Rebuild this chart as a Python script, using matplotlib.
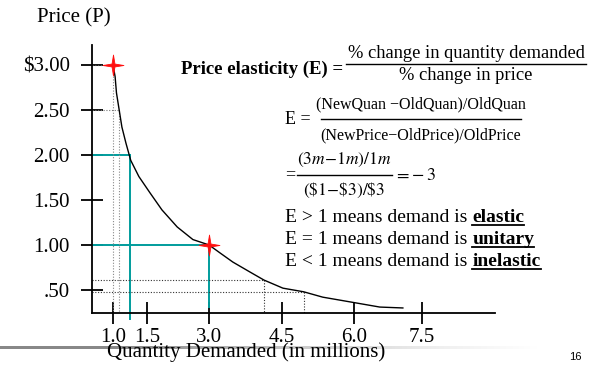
import matplotlib
matplotlib.use('Agg')
import matplotlib.pyplot as plt
import numpy as np
from matplotlib.lines import Line2D
from matplotlib.path import Path

plt.rcParams['font.family'] = ['Liberation Serif', 'DejaVu Serif']
plt.rcParams['mathtext.fontset'] = 'stix'

# Demand curve (quantity in millions, price in $)
quantity = [1.0, 1.03, 1.05, 1.09, 1.13, 1.19, 1.26, 1.38, 1.57, 1.86, 2.23, 2.61, 3.0,
            3.23, 3.49, 3.84, 4.13, 4.52, 4.95, 5.35, 6.0, 6.57, 7.08]
price = [3.0, 2.87, 2.69, 2.50, 2.31, 2.13, 1.94, 1.76, 1.58, 1.39, 1.20, 1.06, 1.0,
         0.91, 0.81, 0.70, 0.61, 0.52, 0.48, 0.42, 0.36, 0.31, 0.30]

# Marked points (old and new)
star_q = [1.0, 3.0]
star_p = [3.0, 1.0]

x_ticks = [1.0, 1.5, 3.0, 4.5, 6.0, 7.5]
x_labels = ['1.0', '1.5', '3.0', '4.5', '6.0', '7.5']
y_ticks = [0.5, 1.0, 1.5, 2.0, 2.5, 3.0]
y_labels = ['.50', '1.00', '1.50', '2.00', '2.50', '$3.00']

W, H = 604, 370
fig = plt.figure(figsize=(W / 100, H / 100), dpi=100)


def fx(x):
    return x / W


def fy(y):
    return 1 - y / H


# the hand-drawn quantity axis is not evenly spaced
knot_vals = np.array([0.0, 1.0, 1.5, 3.0, 4.5, 6.0, 7.5, 10.0])
knot_pos = np.array([45.0, 113.0, 147.0, 209.0, 282.0, 354.0, 422.0, 537.0])


def fwd(v):
    return np.interp(v, knot_vals, knot_pos)


def inv(p):
    return np.interp(p, knot_pos, knot_vals)


ax = fig.add_axes([fx(92), fy(313), (495 - 92) / W, (313 - 45) / H])
ax.set_xscale('function', functions=(fwd, inv))
ax.set_xlim(0.69, 9.09)
ax.set_ylim(0.244, 3.222)

for s in ['top', 'right']:
    ax.spines[s].set_visible(False)
for s in ['left', 'bottom']:
    ax.spines[s].set_linewidth(1.3)

ax.set_xticks(x_ticks)
ax.set_xticklabels(x_labels)
ax.set_yticks(y_ticks)
ax.set_yticklabels(y_labels)
ax.xaxis.set_minor_locator(matplotlib.ticker.NullLocator())
ax.tick_params(axis='both', direction='inout', length=16, width=1.3, labelsize=15)
ax.tick_params(axis='y', pad=8)
ax.tick_params(axis='x', pad=3)

# guide lines
teal = '#009c9c'
x0 = 0.69
ax.plot([x0, 1.25], [2.0, 2.0], color=teal, lw=1.4)
ax.plot([1.25, 1.25], [2.0, 0.18], color=teal, lw=1.4, clip_on=False)
ax.plot([x0, 3.0], [1.0, 1.0], color=teal, lw=1.4)
ax.plot([3.0, 3.0], [1.0, 0.31], color=teal, lw=1.4)

dot = dict(ls=(0, (1, 1.5)), lw=0.8)
ax.plot([x0, 1.0], [3.0, 3.0], color='#555555', **dot)
ax.plot([x0, 1.09], [2.5, 2.5], color='#777777', **dot)
ax.plot([1.0, 1.0], [3.0, 0.244], color='#888888', **dot)
ax.plot([1.09, 1.09], [2.5, 0.244], color='#888888', **dot)
ax.plot([x0, 4.13], [0.61, 0.61], color='#333333', **dot)
ax.plot([4.13, 4.13], [0.61, 0.244], color='#333333', **dot)
ax.plot([x0, 4.95], [0.48, 0.48], color='#333333', **dot)
ax.plot([4.95, 4.95], [0.48, 0.244], color='#333333', **dot)

ax.plot(quantity, price, color='black', lw=1.0, solid_joinstyle='round')

# slim four-point star
ang = np.arange(8) * np.pi / 4 + np.pi / 2
rad = np.where(np.arange(8) % 2 == 0, 1.0, 0.2)
verts = np.column_stack([rad * np.cos(ang), rad * np.sin(ang)])
verts = np.vstack([verts, verts[:1]])
star = Path(verts, closed=True)
ax.plot(star_q, star_p, ls='none', marker=star, markersize=15,
        color='#ff1010', markeredgewidth=0.6, clip_on=False, zorder=5)

# titles
fig.text(fx(74), fy(18), 'Price (P)', ha='center', va='center', fontsize=15)
fig.text(fx(246), fy(352), 'Quantity Demanded (in millions)', ha='center', va='center', fontsize=15)
fig.text(fx(575), fy(357), '16', ha='center', va='center', fontsize=8, family='Liberation Sans')

# bottom decoration bar
bar = fig.add_axes([0, fy(349), 540 / W, 3 / H])
grad = np.concatenate([np.full(60, 0.55), np.linspace(0.55, 0.0, 200)])
bar.imshow(grad[None, :], aspect='auto', cmap='Greys', vmin=0, vmax=1, interpolation='bilinear')
bar.set_axis_off()


def hline(x1, x2, y, lw=1.0):
    fig.add_artist(Line2D([fx(x1), fx(x2)], [fy(y), fy(y)], color='black', lw=lw))


# elasticity formula
fig.text(fx(343), fy(69), 'Price elasticity (E) =', ha='right', va='center', fontsize=13.5, weight='bold')
fig.text(fx(466), fy(53), '% change in quantity demanded', ha='center', va='center', fontsize=13.3)
hline(346, 586, 64)
fig.text(fx(466), fy(76), '% change in price', ha='center', va='center', fontsize=13.3)

fig.text(fx(285), fy(120), 'E =', ha='left', va='center', fontsize=13)
fig.text(fx(421), fy(104), '(NewQuan \u2212OldQuan)/OldQuan', ha='center', va='center', fontsize=11.5)
hline(321, 521, 119)
fig.text(fx(421), fy(135), '(NewPrice\u2212OldPrice)/OldPrice', ha='center', va='center', fontsize=11.5)

fig.text(fx(285), fy(175), '=', ha='left', va='center', fontsize=13)
fig.text(fx(344), fy(160), r'$(3m\!-\!1m)/1m$', ha='center', va='center', fontsize=12.5)
hline(297, 392, 175)
fig.text(fx(344), fy(190), r'$(\$1\!-\!\$3)/\$3$', ha='center', va='center', fontsize=12.5)
fig.text(fx(394), fy(175), r'$=\!-3$', ha='left', va='center', fontsize=13)

rules = [('E > 1 means demand is ', 'elastic', 218),
         ('E = 1 means demand is ', 'unitary', 240),
         ('E < 1 means demand is ', 'inelastic', 262)]
bold_texts = []
for plain, word, y in rules:
    t = fig.text(fx(285), fy(y), plain, ha='left', va='center', fontsize=14)
    b = fig.text(0, 0.5, word, ha='left', va='center', fontsize=14, weight='bold',
                 transform=matplotlib.transforms.blended_transform_factory(
                     matplotlib.transforms.IdentityTransform(), fig.transFigure))
    bold_texts.append((t, b))

fig.canvas.draw()
r = fig.canvas.get_renderer()
for t, b in bold_texts:
    bb = t.get_window_extent(r)
    b.set_position((bb.x1, t.get_position()[1]))
fig.canvas.draw()
for t, b in bold_texts:
    bb = b.get_window_extent(r)
    yline = bb.y0 + 2
    fig.add_artist(Line2D([bb.x0 / W, bb.x1 / W], [yline / H, yline / H], color='black', lw=1.3))

fig.savefig('out.png', dpi=100)
